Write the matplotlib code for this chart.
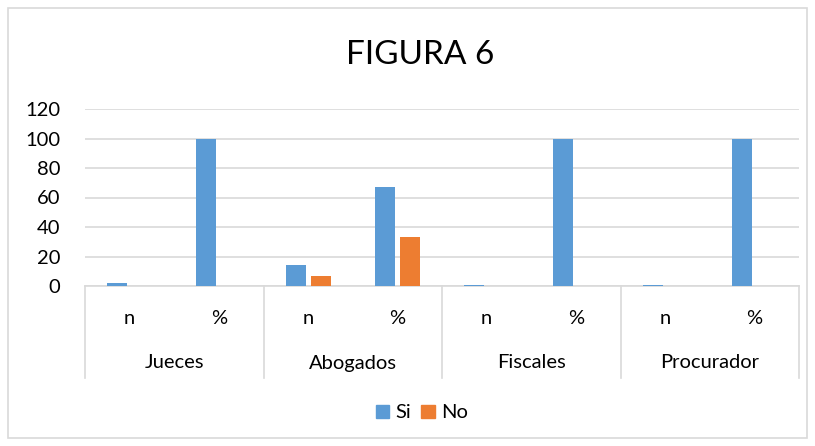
import matplotlib
matplotlib.use("Agg")
import matplotlib.pyplot as plt
import matplotlib.patches as mpatches
import numpy as np

groups = ["Jueces", "Abogados", "Fiscales", "Procurador"]
subcats = ["n", "%"]
si_values = [2, 100, 14, 67, 1, 100, 1, 100]
no_values = [0, 0, 7, 33, 0, 0, 0, 0]
yticks = [0, 20, 40, 60, 80, 100, 120]

plt.rcParams['font.family'] = ['Lato', 'DejaVu Sans']
W, H = 815, 446
fig = plt.figure(figsize=(W / 100, H / 100), dpi=100)
ax = fig.add_axes([85 / W, (H - 286) / H, (799 - 85) / W, (286 - 109) / H])

x = np.arange(len(si_values))
bw = 0.225
off = 0.14
ax.bar(x - off, si_values, bw, color="#5B9BD5", label="Si", zorder=3)
ax.bar(x + off, no_values, bw, color="#ED7D31", label="No", zorder=3)

ax.set_xlim(-0.5, len(si_values) - 0.5)
ax.set_ylim(0, 120)
ax.set_yticks(yticks)
ax.tick_params(axis='y', length=0, labelsize=14.5, pad=18, colors="#000000")
ax.set_xticks([])
for s in ["top", "right", "left"]:
    ax.spines[s].set_visible(False)
ax.spines["bottom"].set_color("#d9d9d9")
ax.spines["bottom"].set_linewidth(1.2)
ax.grid(axis='y', color="#d9d9d9", linewidth=1.2, zorder=0)
ax.set_axisbelow(True)

trans = ax.get_xaxis_transform()
ah = 286 - 109
for i in range(len(si_values)):
    ax.text(i, -(318 - 286) / ah, subcats[i % 2], transform=trans, ha="center",
            va="center", fontsize=14.5)
for g, name in enumerate(groups):
    ax.text(2 * g + 0.5, -(363 - 286) / ah, name, transform=trans, ha="center",
            va="center", fontsize=14.5)
for b in np.arange(-0.5, len(si_values), 2):
    ax.plot([b, b], [0, -(378 - 286) / ah], transform=trans, color="#d9d9d9",
            linewidth=1.2, clip_on=False)

fig.text(420 / W, 1 - 55 / H, "FIGURA 6", ha="center", va="center", fontsize=24)

handles = [mpatches.Patch(color="#5B9BD5", label="Si"),
           mpatches.Patch(color="#ED7D31", label="No")]
fig.legend(handles=handles, loc="center", bbox_to_anchor=(422 / W, 1 - 413 / H),
           ncol=2, frameon=False, fontsize=14.5, handlelength=0.65, handleheight=0.65,
           handletextpad=0.35, columnspacing=0.5)

fig.patches.append(mpatches.Rectangle((8 / W, 8 / H), (807 - 8) / W, (438 - 8) / H,
                                      transform=fig.transFigure, fill=False,
                                      edgecolor="#d9d9d9", linewidth=1.2))

fig.savefig("out.png", dpi=100)
